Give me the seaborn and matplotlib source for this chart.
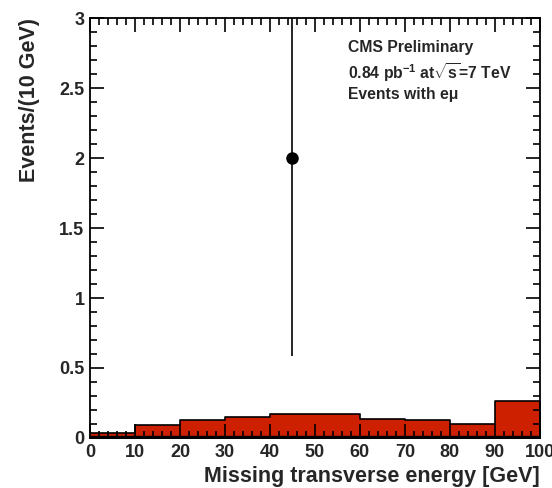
import numpy as np
import matplotlib
matplotlib.use("Agg")
import matplotlib.pyplot as plt
import seaborn as sns
from matplotlib.ticker import MultipleLocator

# bin edges and contents
bin_edges = [0, 10, 20, 30, 40, 50, 60, 70, 80, 90, 100]
bkg_red = [0.034, 0.093, 0.126, 0.150, 0.174, 0.174, 0.136, 0.126, 0.102, 0.264]
bkg_black = [0.017, 0.017, 0.017, 0.017, 0.017, 0.017, 0.017, 0.017, 0.017, 0.017]
data_x = [45]
data_y = [2]
data_err = [np.sqrt(2)]

sns.set_style("ticks")
plt.rcParams['font.family'] = ['Liberation Sans', 'DejaVu Sans']
plt.rcParams['mathtext.fontset'] = 'custom'
plt.rcParams['mathtext.rm'] = 'Liberation Sans:bold'
plt.rcParams['mathtext.it'] = 'Liberation Sans:bold'
plt.rcParams['mathtext.bf'] = 'Liberation Sans:bold'

fig = plt.figure(figsize=(5.52, 4.88), dpi=100)
ax = fig.add_axes([0.163, 0.1025, 0.815, 0.8605])

centers = [(a + b) / 2 for a, b in zip(bin_edges[:-1], bin_edges[1:])]
sns.histplot(x=centers, weights=bkg_red, bins=bin_edges, element="step", fill=True,
             color="#cc2000", alpha=1, edgecolor="black", linewidth=1.2, ax=ax, zorder=2)
sns.histplot(x=centers, weights=bkg_black, bins=bin_edges, element="step", fill=True,
             color="black", alpha=1, edgecolor="black", linewidth=1.0, ax=ax, zorder=3)

ax.errorbar(data_x, data_y, yerr=data_err, fmt="o", color="black", markersize=8,
            elinewidth=1.2, capsize=0, zorder=5, clip_on=True)

ax.set_xlim(0, 100)
ax.set_ylim(0, 3)
ax.xaxis.set_major_locator(MultipleLocator(10))
ax.xaxis.set_minor_locator(MultipleLocator(2))
ax.yaxis.set_major_locator(MultipleLocator(0.5))
ax.yaxis.set_minor_locator(MultipleLocator(0.1))
ax.set_yticks([0, 0.5, 1, 1.5, 2, 2.5, 3])
ax.set_yticklabels(["0", "0.5", "1", "1.5", "2", "2.5", "3"])
ax.tick_params(which="both", direction="in", top=True, right=True, color="black", width=1.2)
ax.tick_params(which="major", length=10, labelsize=13, pad=4)
ax.tick_params(which="minor", length=5)
for lab in ax.get_xticklabels() + ax.get_yticklabels():
    lab.set_fontweight("bold")
for s in ax.spines.values():
    s.set_linewidth(1.3)
    s.set_color("black")
    s.set_zorder(6)
ax.set_axisbelow(False)

ax.set_xlabel("Missing transverse energy [GeV]", fontsize=15.5, fontweight="bold", loc="right", labelpad=4)
ax.set_ylabel("Events/(10 GeV)", fontsize=15.5, fontweight="bold", loc="top", labelpad=14)

ax.text(0.574, 0.929, "CMS Preliminary", transform=ax.transAxes, fontsize=11.3,
        fontweight="bold", va="center")
ax.text(0.574, 0.871, r"0.84 pb$^{-1}$ at$\sqrt{s}$=7 TeV", transform=ax.transAxes, fontsize=11.3,
        fontweight="bold", va="center")
ax.text(0.574, 0.817, "Events with e\u03bc", transform=ax.transAxes, fontsize=11.3,
        fontweight="bold", va="center")

fig.savefig("out.png", dpi=100)
